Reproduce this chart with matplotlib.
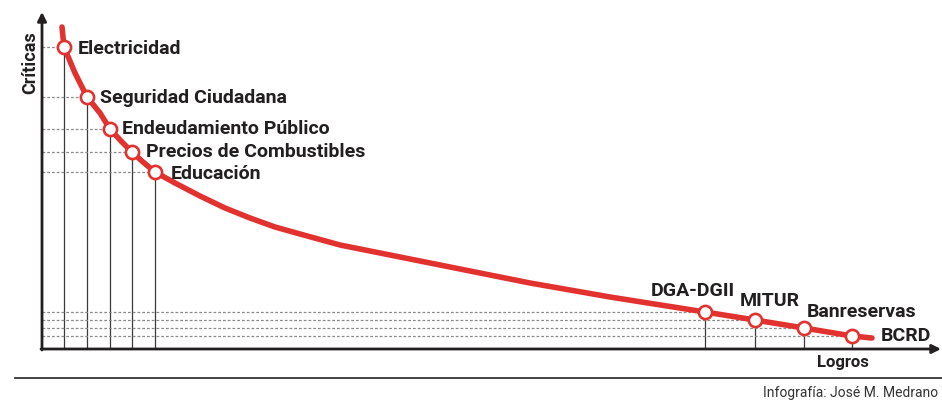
import matplotlib
matplotlib.use("Agg")
import matplotlib.pyplot as plt
from matplotlib.lines import Line2D

# points on the curve (x: logros, y: criticas)
names = ["Electricidad", "Seguridad Ciudadana", "Endeudamiento Público",
         "Precios de Combustibles", "Educación",
         "DGA-DGII", "MITUR", "Banreservas", "BCRD"]
logros = [22, 45, 68, 90, 113, 663, 713, 762, 810]
criticas = [302, 252, 220, 197, 177, 37, 29, 21, 13]

# the red curve
curve_x = [20, 22, 33, 45, 58, 68, 79, 90, 101, 113, 133, 158, 183, 208, 233,
           258, 298, 338, 418, 488, 568, 663, 713, 762, 810, 830]
curve_y = [322, 302, 276, 252, 236, 220, 208, 197, 187, 177, 166, 153, 141,
           131, 122, 115, 104, 96, 80, 66, 52, 37, 29, 21, 13, 11]

# label offsets from the point, in pixels (dx, dy)
label_off = [(14, 0), (13, 1), (12, 2), (14, 2), (16, 0),
             (-54, 23), (-15, 21), (3, 18), (29, 2)]

red = "#e2322f"
ink = "#231f20"
font = ["Roboto", "DejaVu Sans"]

fig = plt.figure(figsize=(9.42, 4.04), dpi=100)
ax = fig.add_axes([42 / 942, 55 / 404, 900 / 942, 349 / 404])
ax.set_xlim(0, 900)
ax.set_ylim(0, 349)
ax.axis("off")

# guide lines
for x, y in zip(logros, criticas):
    ax.plot([0, x], [y, y], color="#8a8a8a", lw=0.9, ls=(0, (2.2, 1.6)), zorder=1)
    ax.plot([x, x], [0, y], color="#3a3a3a", lw=0.9, zorder=1)

ax.plot(curve_x, curve_y, color=red, lw=4, solid_capstyle="round",
        solid_joinstyle="round", zorder=3)
ax.plot(logros, criticas, "o", ms=9.5, mfc="white", mec=red, mew=1.9, zorder=4)

for name, x, y, (dx, dy) in zip(names, logros, criticas, label_off):
    ax.text(x + dx, y + dy - 7, name, ha="left", va="baseline", fontsize=14,
            fontweight="bold", color=ink, family=font, zorder=5)

# axes with arrows
ax.annotate("", xy=(0, 337), xytext=(0, -1), annotation_clip=False,
            arrowprops=dict(arrowstyle="-|>", lw=2, color=ink, mutation_scale=13,
                            shrinkA=0, shrinkB=0))
ax.annotate("", xy=(899, 0), xytext=(-1, 0), annotation_clip=False,
            arrowprops=dict(arrowstyle="-|>", lw=2, color=ink, mutation_scale=13,
                            shrinkA=0, shrinkB=0))

ax.text(-12, 286, "Críticas", rotation=90, ha="center", va="center", fontsize=13,
        fontweight="bold", color=ink, family=font)
ax.text(801, -13, "Logros", ha="center", va="center", fontsize=12,
        fontweight="bold", color=ink, family=font)

fig.add_artist(Line2D([15 / 942, 1], [1 - 378 / 404] * 2, transform=fig.transFigure,
                      color="#333333", lw=1.3))
fig.text(938 / 942, 1 - 393 / 404, "Infografía: José M. Medrano", ha="right",
         va="center", fontsize=10, color="#333333", family=font)

fig.savefig("out.png", dpi=100)
